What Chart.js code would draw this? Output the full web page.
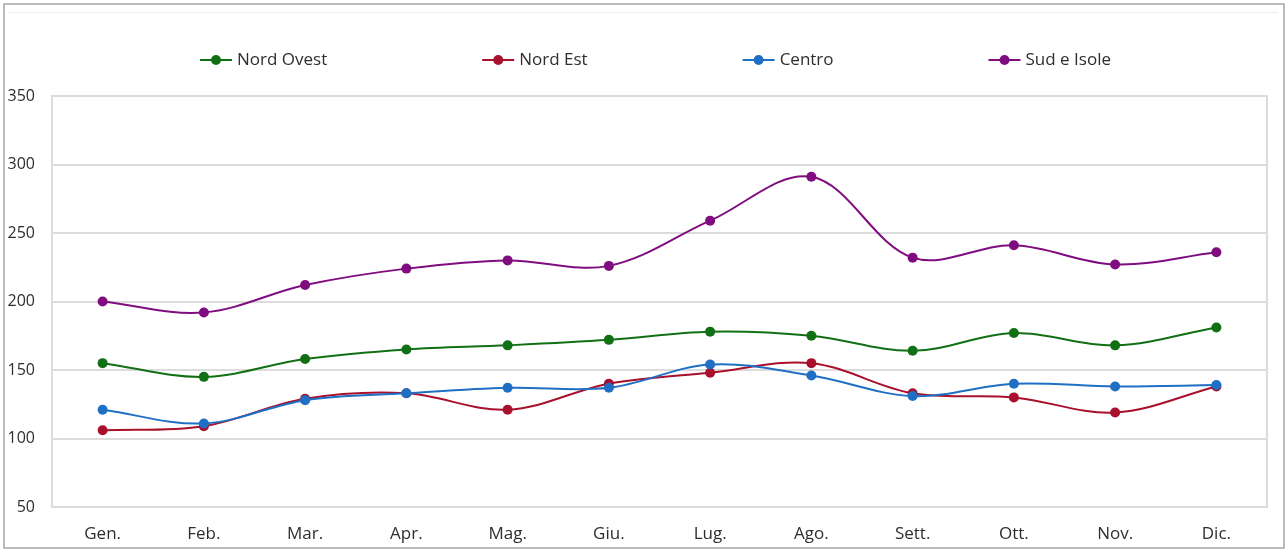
<!DOCTYPE html>
<html lang="it">
<head>
<meta charset="utf-8">
<title>Andamento mensile per ripartizione</title>
<script src="https://cdn.jsdelivr.net/npm/chart.js@4.4.1/dist/chart.umd.min.js"></script>
<style>
    html, body { margin: 0; padding: 0; background: #fff; }
    #contenitore { width: 1288px; height: 552px; }
</style>
</head>
<body>
<div id="contenitore">
    <canvas id="graficoRegioni" width="1288" height="552"></canvas>
</div>
<script>
// --- DATI ---
var mesi = ['Gen.', 'Feb.', 'Mar.', 'Apr.', 'Mag.', 'Giu.', 'Lug.', 'Ago.', 'Sett.', 'Ott.', 'Nov.', 'Dic.'];
var nordOvest = [155, 145, 158, 165, 168, 172, 178, 175, 164, 177, 168, 181];
var nordEst   = [106, 109, 129, 133, 121, 140, 148, 155, 133, 130, 119, 138];
var centro    = [121, 111, 128, 133, 137, 137, 154, 146, 131, 140, 138, 139];
var sudIsole  = [200, 192, 212, 224, 230, 226, 259, 291, 232, 241, 227, 236];
var tickAsseY = [50, 100, 150, 200, 250, 300, 350];

var coloriSerie = {
    nordOvest: '#127014',
    nordEst: '#a8102c',
    centro: '#1f6fc4',
    sudIsole: '#800d80'
};

function serie(nome, valori, colore, ordine) {
    return {
        label: nome,
        data: valori,
        borderColor: colore,
        backgroundColor: colore,
        pointBackgroundColor: colore,
        pointBorderColor: colore,
        pointRadius: 5,
        pointBorderWidth: 0,
        borderWidth: 2,
        tension: 0.35,
        fill: false,
        order: ordine
    };
}

// cornice esterna + riquadro dell'area del grafico
var cornice = {
    id: 'cornice',
    beforeDraw: function (chart) {
        var ctx = chart.ctx;
        ctx.save();
        ctx.fillStyle = '#ffffff';
        ctx.fillRect(0, 0, chart.width, chart.height);
        ctx.strokeStyle = '#bcbcbc';
        ctx.lineWidth = 2;
        ctx.strokeRect(4, 4, chart.width - 8, chart.height - 8);
        ctx.strokeStyle = '#eeeeee';
        ctx.lineWidth = 1;
        ctx.beginPath();
        ctx.moveTo(8, 12.5);
        ctx.lineTo(chart.width - 10, 12.5);
        ctx.stroke();
        ctx.restore();
    },
    beforeDatasetsDraw: function (chart) {
        var a = chart.chartArea;
        var ctx = chart.ctx;
        ctx.save();
        ctx.strokeStyle = '#dcdcdc';
        ctx.lineWidth = 2;
        ctx.strokeRect(a.left, a.top, a.right - a.left, a.bottom - a.top);
        ctx.restore();
    }
};

// legenda con linea e marcatore, come in Excel
var legendaLinee = {
    id: 'legendaLinee',
    afterDraw: function (chart) {
        var ctx = chart.ctx;
        var sets = chart.data.datasets;
        var lineaW = 32, spazioTesto = 5, gap = 155, y = 60;
        ctx.save();
        ctx.font = '17px "Open Sans"';
        var larghezze = sets.map(function (ds) {
            return lineaW + spazioTesto + ctx.measureText(ds.label).width;
        });
        var totale = larghezze.reduce(function (a, b) { return a + b; }, 0) + gap * (sets.length - 1);
        var x = (chart.chartArea.left + chart.chartArea.right) / 2 - 4 - totale / 2;
        sets.forEach(function (ds, i) {
            ctx.strokeStyle = ds.borderColor;
            ctx.lineWidth = 2;
            ctx.beginPath();
            ctx.moveTo(x, y);
            ctx.lineTo(x + lineaW, y);
            ctx.stroke();
            ctx.fillStyle = ds.pointBackgroundColor;
            ctx.beginPath();
            ctx.arc(x + lineaW / 2, y, 5, 0, Math.PI * 2);
            ctx.fill();
            ctx.fillStyle = '#2e2e2e';
            ctx.textAlign = 'left';
            ctx.textBaseline = 'middle';
            ctx.fillText(ds.label, x + lineaW + spazioTesto, y);
            x += larghezze[i] + gap;
        });
        ctx.restore();
    }
};

var ctx = document.getElementById('graficoRegioni').getContext('2d');
var grafico = new Chart(ctx, {
    type: 'line',
    data: {
        labels: mesi,
        datasets: [
            serie('Nord Ovest', nordOvest, coloriSerie.nordOvest, 4),
            serie('Nord Est', nordEst, coloriSerie.nordEst, 3),
            serie('Centro', centro, coloriSerie.centro, 2),
            serie('Sud e Isole', sudIsole, coloriSerie.sudIsole, 1)
        ]
    },
    options: {
        responsive: false,
        animation: false,
        layout: { padding: { top: 96, right: 21, bottom: 0, left: 0 } },
        plugins: {
            legend: { display: false },
            tooltip: { enabled: false }
        },
        scales: {
            x: {
                offset: true,
                grid: { display: false, drawTicks: false },
                border: { display: false },
                ticks: {
                    padding: 17,
                    color: '#2e2e2e',
                    font: { family: '"Open Sans"', size: 17 }
                },
                afterFit: function (scale) { scale.height = 45; }
            },
            y: {
                min: 50,
                max: 350,
                grid: { color: '#dcdcdc', lineWidth: 2, drawTicks: false },
                border: { display: false },
                afterBuildTicks: function (scale) {
                    scale.ticks = tickAsseY.map(function (v) { return { value: v }; });
                },
                ticks: {
                    padding: 17,
                    color: '#2e2e2e',
                    font: { family: '"Open Sans"', size: 16 }
                },
                afterFit: function (scale) { scale.width = 52; }
            }
        }
    },
    plugins: [cornice, legendaLinee]
});
</script>
</body>
</html>
